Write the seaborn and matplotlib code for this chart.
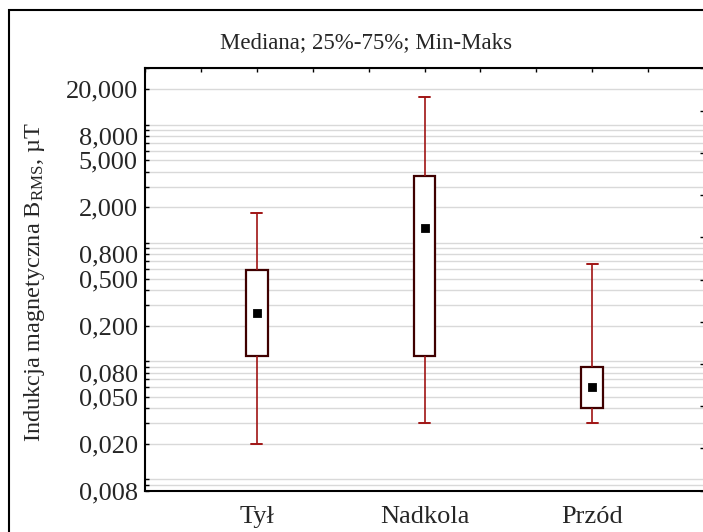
import numpy as np
import pandas as pd
import matplotlib
matplotlib.use("Agg")
import matplotlib.pyplot as plt
from matplotlib.ticker import FixedLocator, FixedFormatter, LogLocator, NullFormatter
from matplotlib.patches import Rectangle
import seaborn as sns

# --- data: five-number summary per position (µT) ---
categories = ["Tył", "Nadkola", "Przód"]
minimum = [0.020, 0.030, 0.030]
q1 = [0.111, 0.111, 0.040]
median = [0.256, 1.33, 0.0605]
q3 = [0.587, 3.67, 0.0894]
maximum = [1.80, 17.3, 0.659]

ytick_values = [0.008, 0.02, 0.05, 0.08, 0.2, 0.5, 0.8, 2, 5, 8, 20]
ytick_labels = [f"{v:.3f}".replace(".", ",") for v in ytick_values]

title = "Mediana; 25%-75%; Min-Maks"
ylabel = "Indukcja magnetyczna B$_{\\mathrm{RMS}}$, µT"

# long table: each group's five summary values
rows = []
for i, c in enumerate(categories):
    for v in (minimum[i], q1[i], median[i], q3[i], maximum[i]):
        rows.append({"Położenie": c, "B": v})
df = pd.DataFrame(rows)

sns.set_style("white")
plt.rcParams["font.family"] = ["Liberation Serif", "DejaVu Serif"]
plt.rcParams["mathtext.fontset"] = "custom"
plt.rcParams["mathtext.rm"] = "Liberation Serif"
plt.rcParams["mathtext.it"] = "Liberation Serif:italic"

W, H = 703, 532
fig = plt.figure(figsize=(W / 100, H / 100), dpi=100)
left, right, top, bottom = 144.8, 704.2, 68.5, 490.7
ax = fig.add_axes([left / W, 1 - bottom / H, (right - left) / W, (bottom - top) / H])

box_edge = "#3f0000"
whisk = "#a01414"

sns.boxplot(
    data=df, x="Położenie", y="B", order=categories,
    whis=(0, 100), width=0.131, color="white", saturation=1,
    linecolor=box_edge, linewidth=1.6, log_scale=True, showfliers=False,
    medianprops={"visible": False},
    whiskerprops={"color": whisk, "linewidth": 1.2},
    capprops={"color": whisk, "linewidth": 1.4},
    ax=ax, zorder=3,
)

sns.pointplot(
    x=categories, y=median, order=categories, linestyle="none",
    marker="s", color="black", markersize=5, errorbar=None, ax=ax, zorder=4,
)

ax.set_xlim(-2 / 3, 8 / 3)
ax.set_xticks([0, 1, 2])
ax.set_xticklabels(categories)
ax.set_xticks(np.arange(-2, 9) / 3, minor=True)
ax.set_xlabel("")
ax.set_ylabel("")

ax.set_yscale("log")
ax.set_ylim(0.008, 30)
ax.yaxis.set_major_locator(FixedLocator(ytick_values))
ax.yaxis.set_major_formatter(FixedFormatter(ytick_labels))
ax.yaxis.set_minor_locator(LogLocator(base=10, subs=np.arange(1, 10), numticks=60))
ax.yaxis.set_minor_formatter(NullFormatter())

ax.set_axisbelow(True)
ax.grid(False)
ax.grid(True, axis="y", which="both", color="#d9d9d9", linewidth=1.0)

ax.tick_params(axis="both", which="both", direction="in", length=3, width=1,
               color="black", top=True, right=False, labelsize=19)
ax.tick_params(axis="y", pad=5)
ax.tick_params(axis="x", pad=11)

for side in ("top", "left", "bottom"):
    ax.spines[side].set_visible(True)
    ax.spines[side].set_color("black")
    ax.spines[side].set_linewidth(1.5)
ax.spines["right"].set_visible(False)

# right-hand evenly spaced tick marks
ax2 = ax.twinx()
ax2.set_ylim(0, 1)
ax2.set_yticks(np.linspace(0, 1, 11))
ax2.grid(False)
ax2.tick_params(axis="y", direction="in", length=3, width=1, labelright=False,
                color="black")
for s in ax2.spines.values():
    s.set_visible(False)

# outer frame
fig.patches.append(Rectangle((9 / W, -0.2), 1.5, 1 - 10 / H + 0.2,
                             transform=fig.transFigure, fill=False,
                             edgecolor="black", linewidth=1.5))

fig.text(366 / W, 1 - 43 / H, title, ha="center", va="center", fontsize=16.5)
fig.text(35 / W, 1 - 282 / H, ylabel, rotation=90, ha="center", va="center",
         fontsize=17.5)

fig.savefig("out.png", dpi=100)
